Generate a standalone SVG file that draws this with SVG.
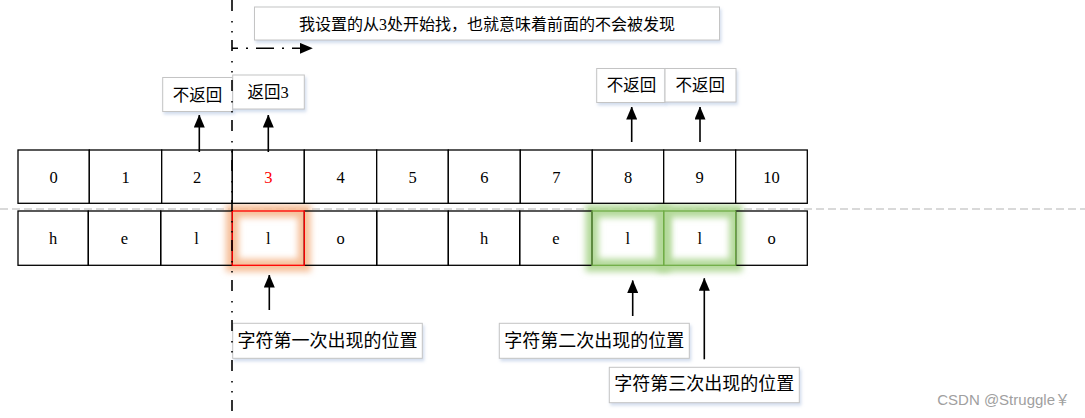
<svg xmlns="http://www.w3.org/2000/svg" width="1085" height="418" viewBox="0 0 1085 418">
<style>
.cell{fill:#fff;stroke:#000;stroke-width:1.3}
.num{font-family:"Liberation Serif","Times New Roman",serif;font-size:16.5px;fill:#000;text-anchor:middle}
.box{fill:#fff;stroke:#c4c4c4;stroke-width:1;filter:url(#shadow)}
.lbl{font-family:"Liberation Serif","Noto Sans CJK SC",sans-serif;font-size:16.5px;fill:#000;text-anchor:middle}
.lbl2{font-family:"Liberation Serif","Noto Sans CJK SC",sans-serif;font-size:18px;fill:#000;text-anchor:middle}
.arr{stroke:#000;stroke-width:1.6;fill:none;marker-end:url(#ah)}
</style>
<defs>
<marker id="ah" markerUnits="userSpaceOnUse" markerWidth="13" markerHeight="11" refX="12.5" refY="5.5" orient="auto">
<path d="M0,0 L13,5.5 L0,11 z" fill="#000"/>
</marker>
<filter id="shadow" x="-10%" y="-20%" width="130%" height="160%">
<feDropShadow dx="1.5" dy="2.5" stdDeviation="1.5" flood-color="#9db5d9" flood-opacity="0.45"/>
</filter>
<filter id="glow" x="-30%" y="-40%" width="160%" height="180%">
<feGaussianBlur stdDeviation="3"/>
</filter>
</defs>

<rect width="1085" height="418" fill="#fff"/>

<!-- separator -->
<line x1="0" y1="209" x2="1085" y2="209" stroke="#b4b4b4" stroke-width="1.2" stroke-dasharray="8,4"/>

<!-- glows -->
<g id="glows">
<rect x="232.3" y="211" width="72" height="54.3" fill="none" stroke="#f6c09a" stroke-width="13" filter="url(#glow)"/>
<rect x="592" y="211" width="71.7" height="54.3" fill="none" stroke="#b3d99a" stroke-width="13" filter="url(#glow)"/>
<rect x="663.7" y="211" width="72" height="54.3" fill="none" stroke="#b3d99a" stroke-width="13" filter="url(#glow)"/>
</g>

<!-- index row -->
<g id="index-row">
<g id="i0"><rect class="cell" x="18" y="150" width="71.3" height="53.3"/><text class="num" x="53.7" y="182.5">0</text></g>
<g id="i1"><rect class="cell" x="89.3" y="150" width="72.4" height="53.3"/><text class="num" x="125.5" y="182.5">1</text></g>
<g id="i2"><rect class="cell" x="161.7" y="150" width="70.6" height="53.3"/><text class="num" x="197" y="182.5">2</text></g>
<g id="i3"><rect class="cell" x="232.3" y="150" width="72" height="53.3"/><text class="num" x="268.3" y="182.5" style="fill:#ff0000">3</text></g>
<g id="i4"><rect class="cell" x="304.3" y="150" width="72.4" height="53.3"/><text class="num" x="340.5" y="182.5">4</text></g>
<g id="i5"><rect class="cell" x="376.7" y="150" width="71.6" height="53.3"/><text class="num" x="412.5" y="182.5">5</text></g>
<g id="i6"><rect class="cell" x="448.3" y="150" width="72" height="53.3"/><text class="num" x="484.3" y="182.5">6</text></g>
<g id="i7"><rect class="cell" x="520.3" y="150" width="72" height="53.3"/><text class="num" x="556.3" y="182.5">7</text></g>
<g id="i8"><rect class="cell" x="592.3" y="150" width="71.4" height="53.3"/><text class="num" x="628" y="182.5">8</text></g>
<g id="i9"><rect class="cell" x="663.7" y="150" width="72" height="53.3"/><text class="num" x="699.7" y="182.5">9</text></g>
<g id="i10"><rect class="cell" x="735.7" y="150" width="71.6" height="53.3"/><text class="num" x="771.5" y="182.5">10</text></g>
</g>

<!-- char row -->
<g id="char-row">
<g id="c0"><rect class="cell" x="18" y="211" width="70.3" height="54.3" style="fill:none"/><text class="num" x="53.2" y="243.8">h</text></g>
<g id="c1"><rect class="cell" x="88.3" y="211" width="72.4" height="54.3" style="fill:none"/><text class="num" x="124.5" y="243.8">e</text></g>
<g id="c2"><rect class="cell" x="160.7" y="211" width="71.6" height="54.3" style="fill:none"/><text class="num" x="196.5" y="243.8">l</text></g>
<g id="c4"><rect class="cell" x="304.3" y="211" width="72.4" height="54.3" style="fill:none"/><text class="num" x="340.5" y="243.8">o</text></g>
<g id="c5"><rect class="cell" x="376.7" y="211" width="71.6" height="54.3" style="fill:none"/></g>
<g id="c6"><rect class="cell" x="448.3" y="211" width="71.4" height="54.3" style="fill:none"/><text class="num" x="484" y="243.8">h</text></g>
<g id="c7"><rect class="cell" x="519.7" y="211" width="72.3" height="54.3" style="fill:none"/><text class="num" x="555.9" y="243.8">e</text></g>
<g id="c10"><rect class="cell" x="735.7" y="211" width="71.6" height="54.3" style="fill:none"/><text class="num" x="771.5" y="243.8">o</text></g>
<g id="c3"><rect x="232.3" y="211" width="72" height="54.3" fill="none" stroke="#ff0000" stroke-width="1.3"/><text class="num" x="268.3" y="243.8">l</text></g>
<g id="c8"><rect x="592" y="211" width="71.7" height="54.3" fill="none" stroke="#70ad47" stroke-width="1.3"/><text class="num" x="627.9" y="243.8">l</text></g>
<g id="c9"><rect x="663.7" y="211" width="72" height="54.3" fill="none" stroke="#70ad47" stroke-width="1.3"/><text class="num" x="699.7" y="243.8">l</text></g>
</g>

<!-- labels -->
<g id="note-start"><rect class="box" x="254.5" y="7" width="465" height="33"/><text class="lbl" style="font-size:16px" x="487" y="30">我设置的从3处开始找，也就意味着前面的不会被发现</text></g>
<g id="lbl-2"><rect class="box" x="162.7" y="77.5" width="70" height="34"/><text class="lbl" x="197.5" y="100.5">不返回</text></g>
<g id="lbl-3"><rect class="box" x="232.7" y="75" width="71.6" height="34"/><text class="lbl" x="268" y="98">返回3</text></g>
<g id="lbl-8"><rect class="box" x="596.7" y="68.5" width="68.3" height="34"/><text class="lbl" x="631.5" y="91">不返回</text></g>
<g id="lbl-9"><rect class="box" x="665" y="68.5" width="71" height="33.5"/><text class="lbl" x="700.3" y="91">不返回</text></g>
<g id="lbl-first"><rect class="box" x="232.7" y="323.3" width="189.6" height="35"/><text class="lbl2" x="327.5" y="346.5">字符第一次出现的位置</text></g>
<g id="lbl-second"><rect class="box" x="499.3" y="323.3" width="190" height="35"/><text class="lbl2" x="594.3" y="346.5">字符第二次出现的位置</text></g>
<g id="lbl-third"><rect class="box" x="609.3" y="367.3" width="190" height="35.4"/><text class="lbl2" x="704.3" y="390.3">字符第三次出现的位置</text></g>

<!-- connectors -->
<g id="connectors">
<line x1="232" y1="0" x2="232" y2="418" stroke="#000" stroke-width="1.6" stroke-dasharray="11,10,1.6,8.4,1.6,7.4"/>
<line x1="232" y1="48.3" x2="312.3" y2="48.3" stroke="#000" stroke-width="1.6" stroke-dasharray="18,8,2,8" stroke-dashoffset="12" marker-end="url(#ah)"/>
<line class="arr" x1="199.3" y1="152" x2="199.3" y2="115"/>
<line class="arr" x1="268.3" y1="152" x2="268.3" y2="115"/>
<line class="arr" x1="631.7" y1="142" x2="631.7" y2="107"/>
<line class="arr" x1="700" y1="142" x2="700" y2="107"/>
<line class="arr" x1="269.3" y1="310" x2="269.3" y2="275"/>
<line class="arr" x1="632.7" y1="316" x2="632.7" y2="280.5"/>
<line class="arr" x1="704.3" y1="359.3" x2="704.3" y2="278.3"/>
</g>

<text x="1070" y="405" text-anchor="end" font-family="Liberation Sans, Arial, Noto Sans CJK SC, sans-serif" font-size="15" fill="#a0a0a0">CSDN @Struggle￥</text>
</svg>
